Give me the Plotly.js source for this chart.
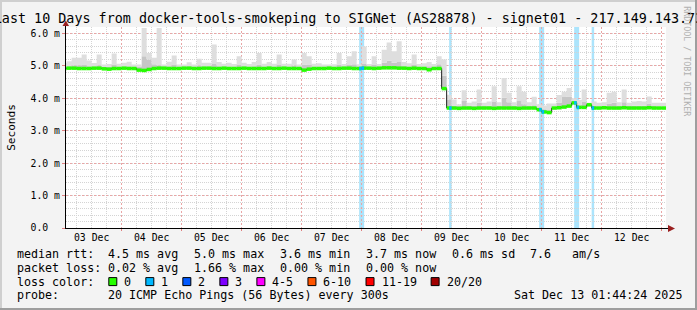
<!DOCTYPE html>
<html><head><meta charset="utf-8">
<script src="https://cdn.plot.ly/plotly-3.0.1.min.js"></script>
<style>html,body{margin:0;padding:0;background:#f3f3f3}</style>
</head><body><div id="chart" style="width:697px;height:310px"></div>
<script>
// ---------- data ----------
const binStartUTC = Date.UTC(2025, 11, 3, 0, 0, 0);   // first 2-hour bin
const binHours = 2;
const median = [
 4.92,4.93,4.93,4.92,4.92,4.92,4.93,4.93,4.91,4.90,
 4.92,4.92,4.93,4.92,4.92,4.87,4.86,4.89,4.92,4.93,
 4.93,4.92,4.92,4.92,4.93,4.93,4.92,4.92,4.93,4.93,
 4.92,4.92,4.93,4.92,4.92,4.92,4.93,4.92,4.92,4.92,
 4.92,4.93,4.92,4.92,4.93,4.92,4.92,4.92,4.87,4.90,
 4.92,4.92,4.92,4.93,4.92,4.92,4.93,4.93,4.92,4.92,
 4.93,4.93,4.92,4.93,4.94,4.94,4.94,4.93,4.93,4.92,
 4.93,4.92,4.92,4.88,4.92,4.92,4.30,3.70,3.70,3.69,
 3.70,3.70,3.69,3.70,3.70,3.70,3.69,3.70,3.70,3.70,
 3.70,3.69,3.70,3.70,3.70,3.65,3.58,3.56,3.70,3.71,
 3.73,3.76,3.86,3.72,3.72,3.80,3.70,3.70,3.71,3.70,
 3.70,3.70,3.71,3.70,3.70,3.70,3.70,3.71,3.70,3.70,3.70
];
const smokeMid = [
 4.98,4.99,5.02,5.02,5.03,4.99,4.98,5.02,4.97,4.98,
 5.03,4.98,4.98,4.99,4.97,4.98,5.30,5.20,5.05,5.02,
 4.98,4.99,5.03,4.97,4.97,4.99,4.97,5.01,4.98,4.98,
 5.06,4.99,4.98,4.98,4.98,5.03,4.98,4.98,4.99,5.04,
 4.98,4.99,4.98,5.03,4.98,4.98,5.01,4.97,5.04,5.03,
 4.98,4.98,4.97,4.97,4.98,5.04,4.98,5.03,5.05,4.98,
 5.06,4.98,5.03,4.98,5.10,5.16,5.10,5.12,4.99,4.98,
 5.03,4.98,4.98,4.99,4.98,5.05,4.70,3.96,3.78,3.76,
 3.92,3.76,3.77,3.86,3.76,3.77,3.90,3.76,4.02,3.88,
 3.76,3.92,3.82,3.76,3.79,3.72,3.66,3.64,3.75,3.86,
 4.04,4.06,3.90,3.79,3.90,3.84,3.76,3.75,3.76,3.84,
 3.86,3.76,3.88,3.76,3.77,3.77,3.77,3.84,3.76,3.75,3.75
];
const smokeMax = [
 5.10,5.14,5.25,5.25,5.35,5.17,5.09,5.35,5.04,5.06,
 5.38,5.07,5.10,5.13,5.04,5.04,6.17,5.40,5.25,6.17,
 5.04,5.13,5.32,5.04,5.04,5.11,5.04,5.22,5.10,5.10,
 5.66,5.12,5.07,5.10,5.06,5.30,5.10,5.06,5.12,5.40,
 5.07,5.12,5.07,5.35,5.07,5.07,5.20,5.04,5.40,5.30,
 5.07,5.08,5.04,5.04,5.05,5.40,5.06,5.30,5.45,5.05,
 5.60,5.06,5.30,5.06,5.50,5.72,5.45,5.76,5.12,5.08,
 5.35,5.06,5.08,5.12,5.06,5.30,5.20,4.11,3.96,3.82,
 4.25,3.86,3.90,4.27,3.86,3.90,4.37,3.88,4.63,4.17,
 3.88,4.37,4.20,3.88,4.05,3.82,3.78,3.84,3.84,4.10,
 4.20,4.32,4.00,3.95,4.27,3.86,3.90,3.86,3.88,4.17,
 4.20,3.88,4.27,3.86,3.90,3.92,3.90,4.06,3.86,3.86,3.86
];
const lossStart = ['2025-12-07T23:00:00Z','2025-12-09T11:00:00Z','2025-12-10T23:00:00Z','2025-12-11T13:00:00Z','2025-12-11T20:00:00Z'];
const lossHours = [2, 1, 2, 2, 1];
const lossPings = [1, 1, 1, 1, 1];
const lossLabels = ['0','1','2','3','4-5','6-10','11-19','20/20'];
const lossColors = ['#26ff00','#00b8ff','#0059ff','#7e00ff','#ff00ff','#ff5500','#ff0000','#a10000'];
const lossBgColors = ['#ffffff','#abe4fc','#a6c3ff','#cfa6ff','#ffa6ff','#ffc4a6','#ffa6a6','#dca6a6'];
const yTickVals = [0, 1, 2, 3, 4, 5, 6];
const yTickText = ['0.0\u00a0\u00a0', '1.0 m', '2.0 m', '3.0 m', '4.0 m', '5.0 m', '6.0 m'];
const titleText = 'Last 10 Days from docker-tools-smokeping to SIGNet (AS28878) - signet01 - 217.149.143.73';
const rttStats = ['4.5 ms avg', '5.0 ms max', '3.6 ms min', '3.7 ms now', '0.6 ms sd', '7.6\u00a0\u00a0\u00a0am/s'];
const lossStats = ['0.02 % avg', '1.66 % max', '0.00 % min', '0.00 % now'];
const probeText = '20 ICMP Echo Pings (56 Bytes) every 300s';
const dateText = 'Sat Dec 13 01:44:24 2025';
const rangeStart = Date.UTC(2025, 11, 3, 1, 44, 24);
const rangeEnd = Date.UTC(2025, 11, 13, 1, 44, 24);

// ---------- geometry helpers (layout only) ----------
const W = 697, H = 310, ML = 66, MR = 31, MT = 27, MB = 82;
const PW = W - ML - MR, PH = H - MT - MB;
const X = px => (px - ML) / PW;
const Y = py => (MT + PH - py) / PH;
const MONO = 'DejaVu Sans Mono';
const HOUR = 3600000;

// ---------- build traces from data ----------
const stepMs = binHours * HOUR;
const xs = median.map((_, k) => binStartUTC + k * stepMs);
xs.push(binStartUTC + median.length * stepMs);
const ext = a => a.concat([a[a.length - 1]]);
const medE = ext(median), midE = ext(smokeMid), maxE = ext(smokeMax);

const traces = [];
traces.push({x: xs, y: medE, mode: 'lines', line: {width: 0, shape: 'hv', color: 'rgba(0,0,0,0)'}, hoverinfo: 'skip'});
traces.push({x: xs, y: midE, mode: 'lines', fill: 'tonexty', fillcolor: '#c6c6c6', line: {width: 0, shape: 'hv', color: 'rgba(0,0,0,0)'}, hoverinfo: 'skip'});
traces.push({x: xs, y: maxE, mode: 'lines', fill: 'tonexty', fillcolor: '#dedede', line: {width: 0, shape: 'hv', color: 'rgba(0,0,0,0)'}, hoverinfo: 'skip'});
traces.push({x: xs, y: medE, mode: 'lines', line: {width: 1, shape: 'hv', color: '#202020'}, hoverinfo: 'skip'});

// loss-colored median band (horizontal segments only)
const gx = [], gy = [];
median.forEach((m, k) => { gx.push(xs[k], xs[k + 1], null); gy.push(m, m, null); });
traces.push({x: gx, y: gy, mode: 'lines', line: {width: 3.5, color: lossColors[0]}, connectgaps: false, hoverinfo: 'skip'});
const lossCol = p => p <= 3 ? p : p <= 5 ? 4 : p <= 10 ? 5 : p <= 19 ? 6 : 7;
lossStart.forEach((s, i) => {
  const t0 = Date.parse(s);
  const bx = [], by = [];
  for (let h = 0; h < lossHours[i]; h++) {
    const a = t0 + h * HOUR;
    const k = Math.floor((a - binStartUTC) / stepMs);
    bx.push(a, a + HOUR, null); by.push(median[k], median[k], null);
  }
  traces.push({x: bx, y: by, mode: 'lines', line: {width: 3.5, color: lossColors[lossCol(lossPings[i])]}, hoverinfo: 'skip'});
});

// ---------- shapes ----------
const shapes = [];
lossStart.forEach((s, i) => {
  const t0 = Date.parse(s);
  shapes.push({type: 'rect', layer: 'below', xref: 'x', yref: 'paper', x0: t0, x1: t0 + lossHours[i] * HOUR, y0: 0, y1: 1,
    fillcolor: lossBgColors[lossCol(lossPings[i])], line: {width: 0}});
});
// axis extensions and arrows
shapes.push({type: 'line', xref: 'paper', yref: 'paper', x0: X(65.5), x1: X(65.5), y0: Y(27), y1: Y(24), line: {color: '#000', width: 1}});
shapes.push({type: 'path', xref: 'paper', yref: 'paper', path: `M ${X(62.5)},${Y(26)} L ${X(69)},${Y(26)} L ${X(65.8)},${Y(20.5)} Z`, fillcolor: '#9a1f1f', line: {width: 0}});
shapes.push({type: 'line', xref: 'paper', yref: 'paper', x0: X(666), x1: X(672), y0: Y(228.5), y1: Y(228.5), line: {color: '#000', width: 1}});
shapes.push({type: 'path', xref: 'paper', yref: 'paper', path: `M ${X(668)},${Y(225)} L ${X(668)},${Y(232)} L ${X(675)},${Y(228.5)} Z`, fillcolor: '#9a1f1f', line: {width: 0}});
// 3D frame
shapes.push({type: 'rect', xref: 'paper', yref: 'paper', x0: X(0), x1: X(697), y0: Y(0), y1: Y(2), fillcolor: '#cfcfcf', line: {width: 0}});
shapes.push({type: 'rect', xref: 'paper', yref: 'paper', x0: X(0), x1: X(2), y0: Y(0), y1: Y(310), fillcolor: '#cfcfcf', line: {width: 0}});
shapes.push({type: 'rect', xref: 'paper', yref: 'paper', x0: X(695), x1: X(697), y0: Y(0), y1: Y(310), fillcolor: '#9e9e9e', line: {width: 0}});
shapes.push({type: 'rect', xref: 'paper', yref: 'paper', x0: X(0), x1: X(697), y0: Y(308), y1: Y(310), fillcolor: '#9e9e9e', line: {width: 0}});

// ---------- annotations (legend text) ----------
const CW = 7.02, FS = 11.66;
const rows = [254, 267.8, 281.6, 295.4];
const ann = [];
const txt = (t, px, py, extra) => ann.push(Object.assign({text: t, xref: 'paper', yref: 'paper', x: X(px - 1), y: Y(py),
  xanchor: 'left', yanchor: 'middle', showarrow: false, font: {family: MONO, size: FS, color: '#000'}}, extra || {}));
txt('median rtt:', 16, rows[0]);
rttStats.forEach((s, i) => txt(s, 107.3 + 86 * i - (i === 5 ? 8 : 0), rows[0]));
txt('packet loss:', 16, rows[1]);
lossStats.forEach((s, i) => txt(s, 107.3 + 86 * i, rows[1]));
txt('loss color:', 16, rows[2]);
let bx = 108.3;
lossLabels.forEach((lab, i) => {
  shapes.push({type: 'rect', xref: 'paper', yref: 'paper', x0: X(bx + 0.5), x1: X(bx + 8.5), y0: Y(rows[2] - 4), y1: Y(rows[2] + 4),
    fillcolor: lossColors[i], line: {color: '#000', width: 1}});
  txt(lab, bx + 15, rows[2]);
  bx = bx + 15 + lab.length * CW + 15;
});
txt('probe:', 16, rows[3]);
txt(probeText, 107.3, rows[3]);
txt(dateText, 513, rows[3]);
// watermark
ann.push({text: 'RRDTOOL / TOBI OETIKER', xref: 'paper', yref: 'paper', x: X(686.7), y: Y(61), textangle: 90,
  showarrow: false, xanchor: 'center', yanchor: 'middle', font: {family: MONO, size: 8.3, color: '#b0b0b0'}});

const gridMajor = '#e9a6a6', gridMinor = '#d4d4d4';
const layout = {
  width: W, height: H,
  margin: {l: ML, r: MR, t: MT, b: MB, pad: 0},
  paper_bgcolor: '#f3f3f3', plot_bgcolor: '#ffffff',
  showlegend: false,
  title: {text: titleText, font: {family: MONO, size: 13.4, color: '#000'}, xref: 'container', x: 0.5, xanchor: 'center',
    yref: 'container', y: 1 - 18.3 / H, yanchor: 'middle'},
  xaxis: {type: 'date', range: [rangeStart, rangeEnd], tick0: binStartUTC, dtick: 86400000, ticklabelmode: 'period',
    tickformat: '%d %b', showgrid: true, gridcolor: gridMajor, griddash: '2px,2px', gridwidth: 1,
    showline: true, linecolor: '#000', linewidth: 1, ticks: 'outside', ticklen: 2, tickcolor: '#e08080',
    tickfont: {family: MONO, size: 9.8, color: '#000'}, zeroline: false, fixedrange: true, ticklabelstandoff: -2,
    minor: {tickmode: 'linear', tick0: binStartUTC, dtick: 6 * HOUR, showgrid: true, gridcolor: gridMinor, griddash: '1px,1px', ticks: ''}},
  yaxis: {range: [0, 6.2], tickmode: 'array', tickvals: yTickVals, ticktext: yTickText, showgrid: true, gridcolor: gridMajor,
    griddash: '2px,2px', showline: true, linecolor: '#000', linewidth: 1, ticks: 'outside', ticklen: 3, tickcolor: '#e08080',
    tickfont: {family: MONO, size: 9.8, color: '#000'}, zeroline: false, fixedrange: true,
    title: {text: 'Seconds', font: {family: MONO, size: 11.1, color: '#000'}, standoff: 12},
    minor: {tickmode: 'linear', tick0: 0, dtick: 0.2, showgrid: true, gridcolor: gridMinor, griddash: '1px,1px', ticks: ''}},
  shapes: shapes,
  annotations: ann
};
Plotly.newPlot('chart', traces, layout, {staticPlot: true, displayModeBar: false});
</script></body></html>
